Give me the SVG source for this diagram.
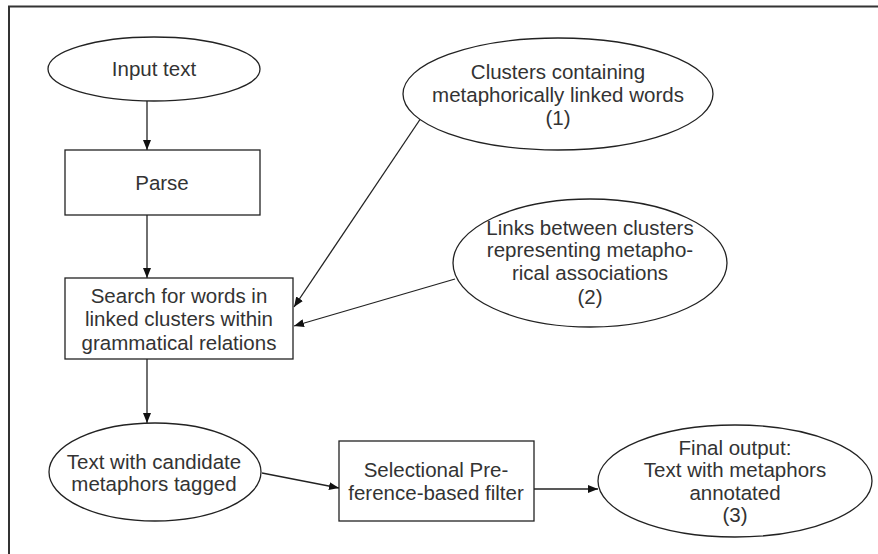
<svg xmlns="http://www.w3.org/2000/svg" width="878" height="554" viewBox="0 0 878 554">
<style>
.n{fill:#fff;stroke:#222;stroke-width:1.3}
.t{font-family:"Liberation Sans",Arial,sans-serif;font-size:20.5px;fill:#333;text-anchor:middle}
.c{stroke:#222;stroke-width:1.3;fill:none;marker-end:url(#ah)}
</style>
<defs>
<marker id="ah" viewBox="0 0 10 8" refX="10" refY="4" markerWidth="10" markerHeight="8" markerUnits="userSpaceOnUse" orient="auto">
<path d="M0,0 L10,4 L0,8 Z" fill="#111"/>
</marker>
</defs>
<rect width="878" height="554" fill="#fff"/>
<path d="M9,554 V6.5 H878" fill="none" stroke="#333" stroke-width="2"/>
<g id="connectors">
<line class="c" x1="147" y1="101" x2="147" y2="150"/>
<line class="c" x1="147" y1="215" x2="147" y2="278"/>
<line class="c" x1="421" y1="118" x2="294" y2="307"/>
<line class="c" x1="455" y1="279" x2="294" y2="326"/>
<line class="c" x1="147" y1="359" x2="147" y2="423"/>
<line class="c" x1="262" y1="473" x2="339" y2="488"/>
<line class="c" x1="534" y1="489" x2="598" y2="489"/>
</g>
<g id="input">
<ellipse class="n" cx="154" cy="69" rx="106" ry="32"/>
<text class="t" x="154" y="76">Input text</text>
</g>
<g id="parse">
<rect class="n" x="65" y="150" width="195" height="65"/>
<text class="t" x="162" y="190">Parse</text>
</g>
<g id="clusters">
<ellipse class="n" cx="558" cy="94" rx="155" ry="56"/>
<text class="t" x="558" y="79">Clusters containing</text>
<text class="t" x="558" y="102">metaphorically linked words</text>
<text class="t" x="558" y="125">(1)</text>
</g>
<g id="links">
<ellipse class="n" cx="590" cy="263" rx="137" ry="64"/>
<text class="t" x="590" y="235">Links between clusters</text>
<text class="t" x="590" y="257">representing metapho-</text>
<text class="t" x="590" y="280">rical associations</text>
<text class="t" x="590" y="304">(2)</text>
</g>
<g id="search">
<rect class="n" x="65" y="278" width="228" height="81"/>
<text class="t" x="179" y="303">Search for words in</text>
<text class="t" x="179" y="326">linked clusters within</text>
<text class="t" x="179" y="350">grammatical relations</text>
</g>
<g id="candidate">
<ellipse class="n" cx="155" cy="472" rx="106" ry="49"/>
<text class="t" x="154" y="469">Text with candidate</text>
<text class="t" x="154" y="491">metaphors tagged</text>
</g>
<g id="filter">
<rect class="n" x="339" y="441" width="195" height="80"/>
<text class="t" x="436" y="477">Selectional Pre-</text>
<text class="t" x="436" y="500">ference-based filter</text>
</g>
<g id="final">
<ellipse class="n" cx="735" cy="481" rx="137" ry="56"/>
<text class="t" x="735" y="455">Final output:</text>
<text class="t" x="735" y="477">Text with metaphors</text>
<text class="t" x="735" y="500">annotated</text>
<text class="t" x="735" y="522">(3)</text>
</g>
</svg>
